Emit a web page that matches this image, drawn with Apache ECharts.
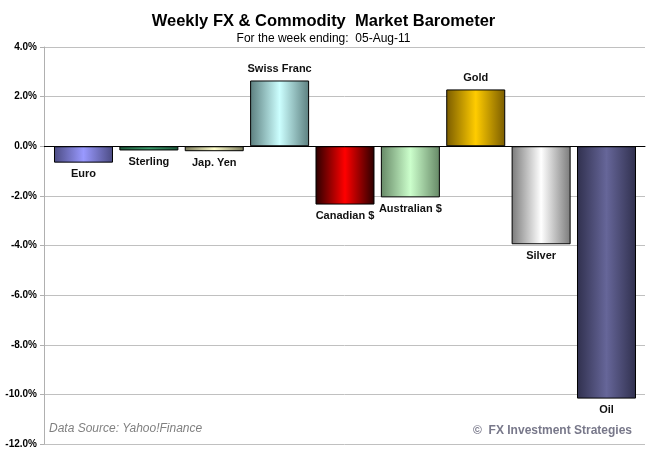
<!DOCTYPE html>
<html>
<head>
<meta charset="utf-8">
<script src="https://cdn.jsdelivr.net/npm/echarts@6/dist/echarts.min.js"></script>
<style>
  html, body { margin: 0; padding: 0; background: #fff; }
  #main { width: 647px; height: 458px; }
</style>
</head>
<body>
<div id="main"></div>
<script>
// weekly % change, week ending 05-Aug-11
let categories = ['Euro', 'Sterling', 'Jap. Yen', 'Swiss Franc', 'Canadian $', 'Australian $', 'Gold', 'Silver', 'Oil'];
let changes = [-0.66, -0.17, -0.2, 2.65, -2.35, -2.06, 2.29, -3.95, -10.17];

// edge / centre colours for the bar gradients
let barColors = [
  ['#4b4b82', '#9999ff'],
  ['#1e5a3c', '#3c9c6c'],
  ['#7a7a5a', '#ffffcc'],
  ['#5c7f7f', '#ccffff'],
  ['#2a0000', '#ff0000'],
  ['#668866', '#ccffcc'],
  ['#7a5c00', '#ffcc00'],
  ['#7a7a7a', '#ffffff'],
  ['#30304e', '#666699']
];

let chart = echarts.init(document.getElementById('main'));

let grad = function (c) {
  return new echarts.graphic.LinearGradient(0, 0, 1, 0, [
    { offset: 0, color: c[0] },
    { offset: 0.5, color: c[1] },
    { offset: 1, color: c[0] }
  ]);
};

// x is a slot index so the bars sit a little inside the grid, like the original
let barData = changes.map(function (v, i) {
  return {
    value: [i, v],
    itemStyle: { color: grad(barColors[i]) },
    label: { position: v >= 0 ? 'top' : 'bottom' }
  };
});

let option = {
  animation: false,
  title: [{
    text: 'Weekly FX & Commodity  Market Barometer',
    left: 'center',
    top: 8,
    textStyle: { fontFamily: 'Liberation Sans', fontSize: 16.5, fontWeight: 'bold', color: '#000' }
  }, {
    text: 'For the week ending:  05-Aug-11',
    left: 'center',
    top: 28,
    textStyle: { fontFamily: 'Liberation Sans', fontSize: 12, fontWeight: 'normal', color: '#000' }
  }],
  grid: { left: 44, right: 2, top: 47, bottom: 14, containLabel: false },
  xAxis: {
    type: 'value',
    min: -0.604,
    max: 8.589,
    axisLine: { onZero: true, lineStyle: { color: '#000', width: 1 } },
    axisTick: { show: false },
    axisLabel: { show: false },
    splitLine: { show: false }
  },
  yAxis: {
    type: 'value',
    min: -12,
    max: 4,
    interval: 2,
    axisLine: { show: true, onZero: false, lineStyle: { color: '#b0b0b0' } },
    axisTick: { show: true, length: 4, lineStyle: { color: '#b0b0b0' } },
    splitLine: { lineStyle: { color: '#c0c0c0' } },
    axisLabel: {
      margin: 7,
      fontFamily: 'Liberation Sans',
      fontSize: 10,
      fontWeight: 'bold',
      color: '#000',
      formatter: function (v) { return v.toFixed(1) + '%'; }
    }
  },
  series: [{
    type: 'bar',
    data: barData,
    barWidth: 59,
    itemStyle: { borderColor: '#000', borderWidth: 1 },
    label: {
      show: true,
      distance: 6,
      fontFamily: 'Liberation Sans',
      fontSize: 11,
      fontWeight: 'bold',
      color: '#111',
      formatter: function (p) { return categories[p.dataIndex]; }
    }
  }],
  graphic: [
    {
      type: 'text', left: 49, top: 423,
      style: { text: 'Data Source: Yahoo!Finance', fontFamily: 'Liberation Sans', fontStyle: 'italic', fontSize: 12, fill: '#808080' }
    },
    {
      type: 'text', right: 15, top: 425,
      style: { text: '©  FX Investment Strategies', fontFamily: 'Liberation Sans', fontWeight: 'bold', fontSize: 12, fill: '#78788a' }
    }
  ]
};

chart.setOption(option);
</script>
</body>
</html>
